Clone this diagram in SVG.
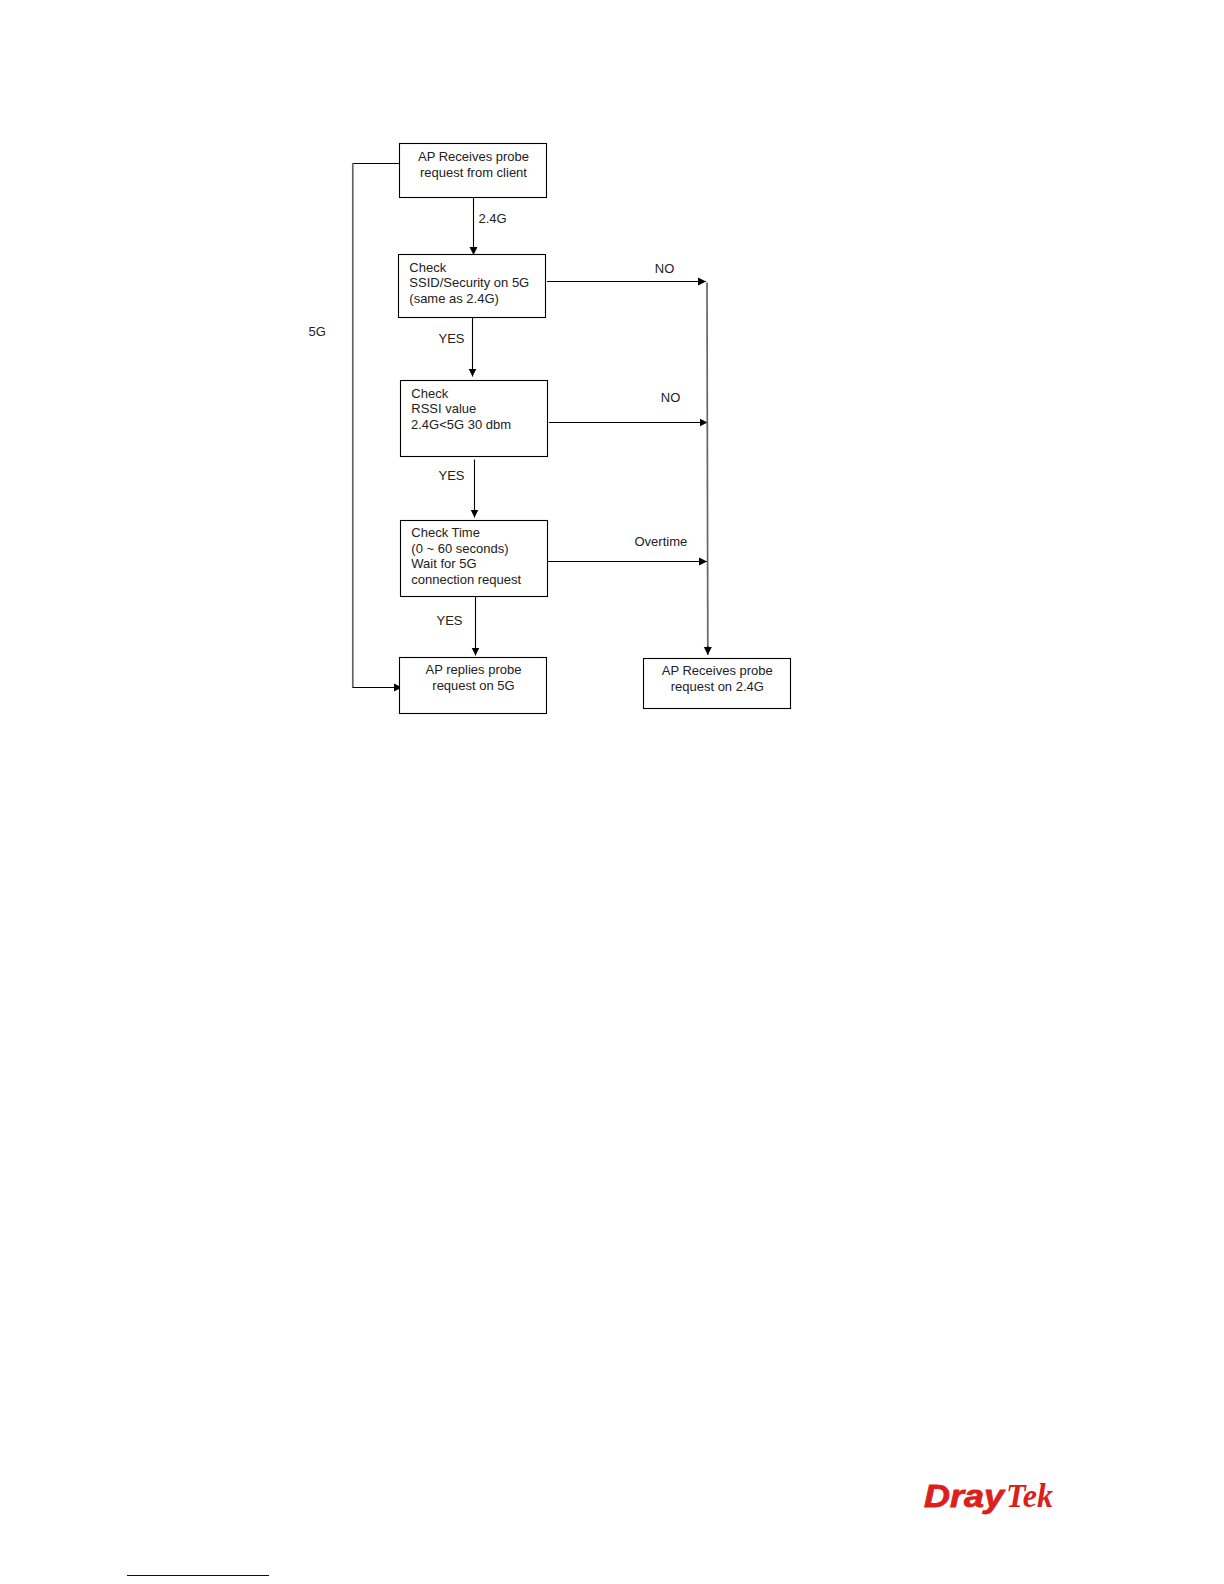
<svg xmlns="http://www.w3.org/2000/svg" width="1224" height="1584" viewBox="0 0 1224 1584">
<style>
.b{fill:#fff;stroke:#000;stroke-width:1.1}
.c{fill:none;stroke:#000;stroke-width:1.1}
.g{fill:none;stroke:#666;stroke-width:1.7}
text{font-family:"Liberation Sans",Arial,sans-serif;font-size:13px;fill:#222}
.m{text-anchor:middle}
.l1{font-family:"Liberation Sans",Arial,sans-serif;font-size:31px;font-weight:bold;font-style:italic;fill:#dc1f1c;stroke:#dc1f1c;stroke-width:.8}
.l2{font-family:"Liberation Serif",serif;font-size:34px;font-weight:bold;font-style:italic;fill:#dc1f1c}
</style>
<defs><marker id="a" markerUnits="userSpaceOnUse" markerWidth="9" markerHeight="9" refX="8" refY="4.500" orient="auto"><path d="M0 .5L8 4.500L0 8.500Z" fill="#000"/></marker></defs>
<rect width="1224" height="1584" fill="#fff"/>
<g id="connectors">
<path class="c" d="M399 163.500H353"/>
<path class="g" d="M352.800 163V687.500"/>
<path class="c" d="M352.500 687.500H402" marker-end="url(#a)"/>
<path class="c" d="M473.500 197V255" marker-end="url(#a)"/>
<path class="c" d="M472.500 317V376.500" marker-end="url(#a)"/>
<path class="c" d="M474.500 459.500V517.500" marker-end="url(#a)"/>
<path class="c" d="M475.500 596V655.500" marker-end="url(#a)"/>
<path class="c" d="M547 281.500H706" marker-end="url(#a)"/>
<path class="c" d="M549 422.500H707.500" marker-end="url(#a)"/>
<path class="c" d="M548 561.500H707" marker-end="url(#a)"/>
<path class="g" d="M707 282.500L707.800 648"/>
<path class="c" d="M707.800 646V655" marker-end="url(#a)"/>
</g>
<g id="n1"><rect class="b" x="399.500" y="143.500" width="147" height="54"/><text class="m" x="473.500" y="161">AP Receives probe</text><text class="m" x="473.500" y="177">request from client</text></g>
<g id="n2"><rect class="b" x="398.500" y="254.500" width="147" height="63"/><text x="409.300" y="271.500">Check</text><text x="409.300" y="287">SSID/Security on 5G</text><text x="409.300" y="303">(same as 2.4G)</text></g>
<g id="n3"><rect class="b" x="400.500" y="380.500" width="147" height="76"/><text x="411.300" y="397.500">Check</text><text x="411.300" y="413">RSSI value</text><text x="411" y="429">2.4G&lt;5G 30 dbm</text></g>
<g id="n4"><rect class="b" x="400.500" y="520.500" width="147" height="76"/><text x="411.300" y="537">Check Time</text><text x="411.300" y="552.500">(0 ~ 60 seconds)</text><text x="411.300" y="568">Wait for 5G</text><text x="411.300" y="584">connection request</text></g>
<g id="n5"><rect class="b" x="399.500" y="657.500" width="147" height="56"/><text class="m" x="473.500" y="674">AP replies probe</text><text class="m" x="473.500" y="690">request on 5G</text></g>
<g id="n6"><rect class="b" x="643.500" y="658.500" width="147" height="50"/><text class="m" x="717.300" y="675">AP Receives probe</text><text class="m" x="717.300" y="691">request on 2.4G</text></g>
<g id="labels">
<text x="478.500" y="222.500">2.4G</text><text x="308.500" y="336">5G</text><text x="438.500" y="342.500">YES</text><text x="438.500" y="480">YES</text><text x="436.500" y="624.500">YES</text><text x="654.800" y="272.500">NO</text><text x="660.800" y="401.500">NO</text><text x="634.500" y="545.500">Overtime</text>
</g>
<g id="logo"><text class="l1" x="924" y="1506.500" textLength="80" lengthAdjust="spacingAndGlyphs">Dray</text><text class="l2" x="1006" y="1506.500" textLength="47" lengthAdjust="spacingAndGlyphs">Tek</text></g>
<path d="M127 1575.500H269" stroke="#000090" stroke-width="1.1" fill="none"/>
</svg>
